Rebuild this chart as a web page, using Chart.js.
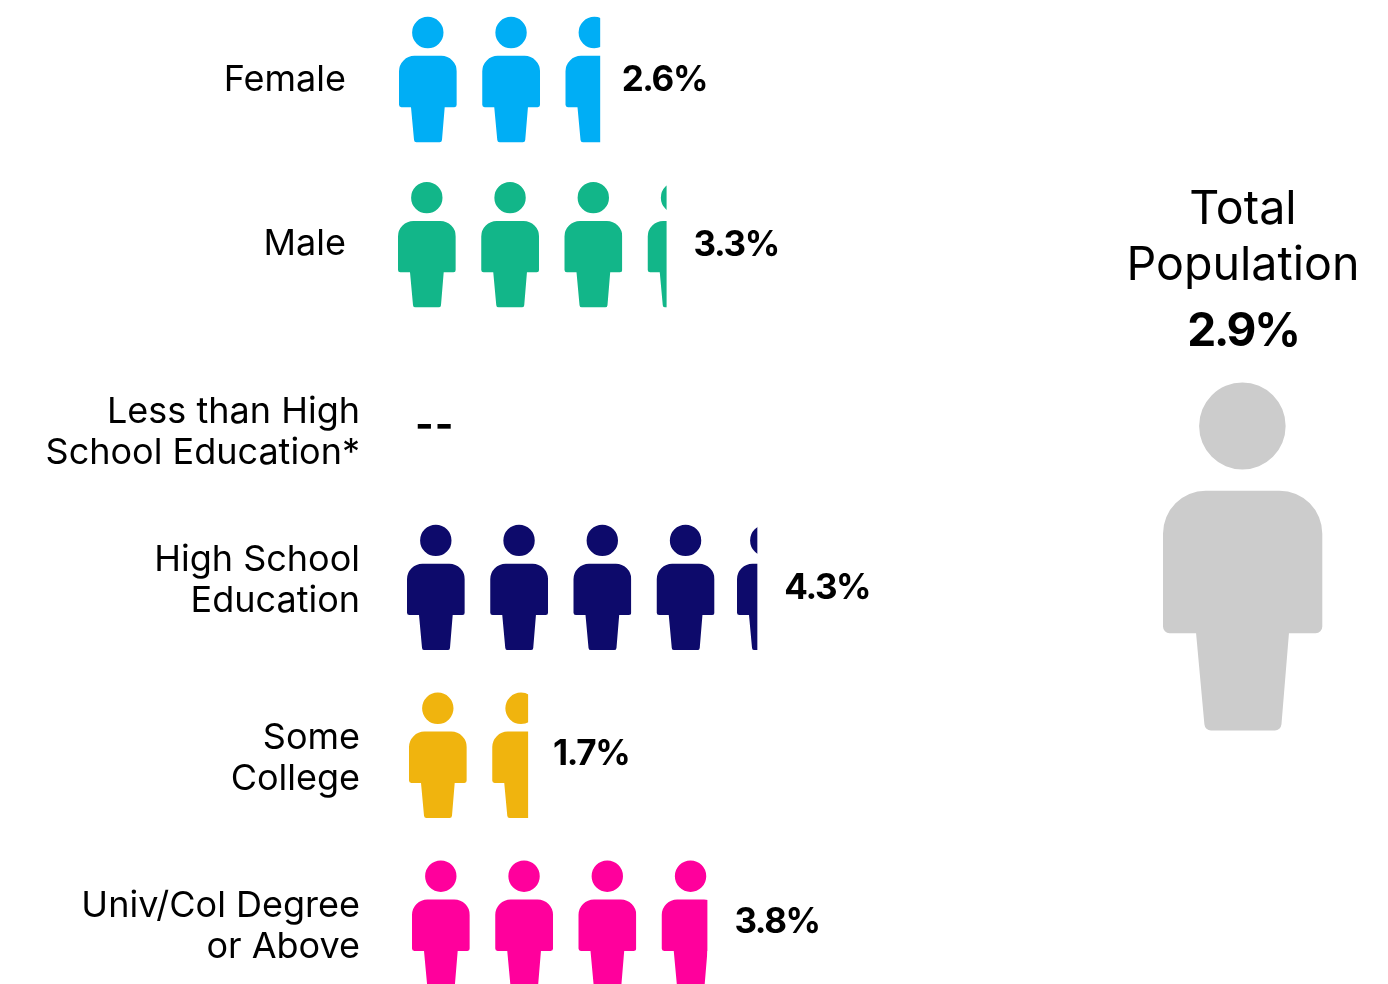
<!DOCTYPE html>
<html><head><meta charset="utf-8">
<style>html,body{margin:0;padding:0;background:#fff}#wrap{width:1388px;height:984px;position:relative}</style>
<script src="https://cdn.jsdelivr.net/npm/chart.js@4"></script>
</head><body><div id="wrap"><canvas id="c" width="1388" height="984"></canvas></div>
<script>
// ---- data ----
const categories = [["Female"],["Male"],["Less than High","School Education*"],["High School","Education"],["Some","College"],["Univ/Col Degree","or Above"]];
const values = [2.6, 3.3, null, 4.3, 1.7, 3.8];
const valueLabels = ["2.6%","3.3%","--","4.3%","1.7%","3.8%"];
const rowColors = ["#00aef5","#12b689","#cccccc","#0d0a6b","#f0b40e","#ff009c"];
const totalTitle = ["Total","Population"];
const totalLabel = "2.9%";
// ---- layout nudges, px (source chart placed rows by hand) ----
const iconNudgeX = [0,-1,0,8,10,13];
const iconNudgeY = [-0.5,-3.9,0,1.9,1.3,0.7];
const lastIconShift = [0,0,0,-3,0,0];
const cutNudge = [0,1.5,0,3,-4.6,-0.6];
const valueGap = [21.5,27,16,27,25,27];
const valueY = [80.5,245.5,426,588.5,754.5,922.5];
const labelNudgeX = [-14,-14,0,0,0,0];
const labelCenterY = [80.5,244.5,432.5,580.5,758.5,926.5];

const FONT = '"Inter","Lato",sans-serif';
const PERIOD = 83.25, ICON_W = 57.8, ICON_H = 125.4;

function iconPath(ctx){
  ctx.beginPath();
  ctx.arc(28.8,15.7,15.7,0,Math.PI*2);
  ctx.closePath();
  // torso
  ctx.moveTo(15.5,39);
  ctx.lineTo(42.3,39);
  ctx.arcTo(57.8,39,57.8,54.5,15.5);
  ctx.lineTo(57.8,88);
  ctx.arcTo(57.8,90.4,55.4,90.4,2.4);
  ctx.lineTo(45.7,90.4);
  ctx.lineTo(43,123);
  ctx.arcTo(42.8,125.4,40.4,125.4,2.4);
  ctx.lineTo(17.6,125.4);
  ctx.arcTo(15.2,125.4,15,123,2.4);
  ctx.lineTo(12,90.4);
  ctx.lineTo(2.4,90.4);
  ctx.arcTo(0,90.4,0,88,2.4);
  ctx.lineTo(0,54.5);
  ctx.arcTo(0,39,15.5,39,15.5);
  ctx.closePath();
}

const pictogram = {
  id:'pictogram',
  beforeDraw(chart){
    // move the axis' own tick labels to their places in the reference
    const yS = chart.scales.y, items = yS.getLabelItems();
    if(!items._moved){
      items.forEach((it,i)=>{
        it.options.translation[0] += labelNudgeX[i];
        it.options.translation[1] += labelCenterY[i]-yS.getPixelForTick(i);
      });
      items._moved = true;
    }
  },
  beforeDatasetDraw(chart,args){
    const ctx = chart.ctx, xS = chart.scales.x, yS = chart.scales.y;
    values.forEach((v,row)=>{
      const yTop = yS.getPixelForValue(row)+iconNudgeY[row]-ICON_H/2;
      let end = xS.getPixelForValue(0)+iconNudgeX[row];
      if(v!==null){
        ctx.fillStyle = rowColors[row];
        const n = Math.ceil(v);
        for(let i=0;i<n;i++){
          const f = Math.min(1,v-i);
          const last = i===n-1 && f<1;
          const x = xS.getPixelForValue(i)+iconNudgeX[row]+(last?lastIconShift[row]:0);
          const w = f*ICON_W+(last?cutNudge[row]:0);
          ctx.save();
          ctx.beginPath(); ctx.rect(x-1,yTop-1,w+1,ICON_H+2); ctx.clip();
          ctx.translate(x,yTop);
          iconPath(ctx); ctx.fill();
          ctx.restore();
          end = x+w;
        }
      } else { end = xS.getPixelForValue(0); }
      ctx.save();
      ctx.fillStyle = '#000';
      ctx.textBaseline = 'middle'; ctx.textAlign = 'left';
      if(v===null){ ctx.font = '700 40px '+FONT; ctx.letterSpacing='1px'; }
      else { ctx.font = '700 35px '+FONT; ctx.letterSpacing='-1.4px'; }
      ctx.fillText(valueLabels[row],end+valueGap[row],valueY[row]);
      ctx.restore();
    });
    return false; // bars are replaced by the icons above
  },
  afterDraw(chart){
    const ctx = chart.ctx, cx = 1243;
    ctx.save();
    ctx.fillStyle = '#000'; ctx.textAlign='center'; ctx.textBaseline='middle';
    ctx.font = '400 46.6px '+FONT;
    ctx.fillText(totalTitle[0],cx,210);
    ctx.fillText(totalTitle[1],cx,266);
    ctx.font = '700 46px '+FONT; ctx.letterSpacing='-2.2px';
    ctx.fillText(totalLabel,cx,332);
    ctx.letterSpacing='0px';
    ctx.translate(1163,382.4); ctx.scale(2.756,2.775);
    ctx.fillStyle = '#cccccc';
    iconPath(ctx); ctx.fill();
    ctx.restore();
  }
};

new Chart(document.getElementById('c'),{
  type:'bar',
  data:{labels:categories,datasets:[{data:values,backgroundColor:rowColors,borderWidth:0}]},
  plugins:[pictogram],
  options:{
    indexAxis:'y',responsive:false,animation:false,
    layout:{padding:{top:79.5,bottom:61.5,left:0,right:0}},
    plugins:{legend:{display:false},tooltip:{enabled:false},title:{display:false}},
    scales:{
      x:{type:'linear',display:false,min:0,max:(1388-399)/PERIOD},
      y:{type:'category',offset:false,
        grid:{display:false,drawTicks:false},border:{display:false},
        afterFit(s){s.width=399;},
        ticks:{autoSkip:false,padding:39,color:'#000',font:{family:FONT,size:36,weight:'400',lineHeight:1.14}}
      }
    }
  }
});
</script></body></html>
